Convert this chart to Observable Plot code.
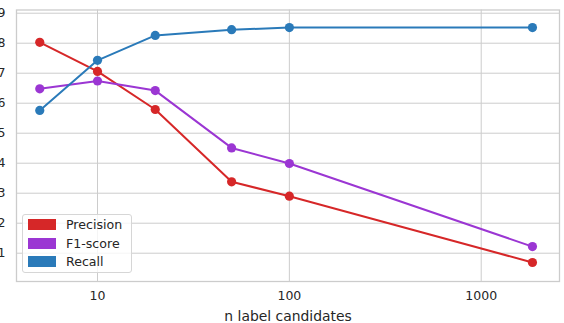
<!DOCTYPE html>
<html>
<head>
<meta charset="utf-8">
<script src="https://cdn.jsdelivr.net/npm/d3@7"></script>
<script src="https://cdn.jsdelivr.net/npm/@observablehq/plot@0.6"></script>
<style>
  html, body { margin: 0; padding: 0; background: white; }
  body { font-family: "DejaVu Sans", sans-serif; }
  #wrap { position: relative; width: 564px; height: 323px; overflow: hidden; }
  #legend {
    position: absolute; left: 22px; top: 213.5px; width: 108px;
    border: 1px solid #d6d6d6; border-radius: 3px;
    background: rgba(255,255,255,0.8);
    padding: 1px 0 1px 0; box-sizing: content-box;
  }
  .row { display: flex; align-items: center; height: 18.6px; font-size: 12.6px; color: #262626; }
  .sw { width: 28px; height: 11px; margin-left: 5px; margin-right: 10px; }
</style>
</head>
<body>
<div id="wrap"></div>
<script>
const candidates = [5, 10, 20, 50, 100, 1850];
const seriesNames = ["Precision", "F1-score", "Recall"];
const seriesColors = ["#d62728", "#9b36d3", "#2a7ab9"];
const precision = [0.803, 0.706, 0.579, 0.338, 0.290, 0.069];
const f1score   = [0.648, 0.674, 0.642, 0.451, 0.399, 0.122];
const recall    = [0.576, 0.743, 0.826, 0.845, 0.852, 0.852];
const xTicks = [10, 100, 1000];
const yTicks = [0.1, 0.2, 0.3, 0.4, 0.5, 0.6, 0.7, 0.8, 0.9];

const seriesValues = [precision, f1score, recall];
const data = [];
seriesNames.forEach((name, s) => {
  candidates.forEach((c, i) => data.push({series: name, n: c, value: seriesValues[s][i]}));
});

const plot = Plot.plot({
  width: 564,
  height: 323,
  marginTop: 9.5,
  marginBottom: 42,
  marginLeft: 16,
  marginRight: 5,
  style: {fontFamily: "DejaVu Sans, sans-serif", color: "#262626", background: "white", overflow: "visible"},
  x: {type: "log", domain: [3.782, 2559], range: [16, 559]},
  y: {domain: [0.0057, 0.9107]},
  color: {domain: seriesNames, range: seriesColors},
  marks: [
    Plot.gridX(xTicks, {stroke: "#cccccc", strokeOpacity: 1, strokeWidth: 1}),
    Plot.gridY(yTicks, {stroke: "#cccccc", strokeOpacity: 1, strokeWidth: 1}),
    Plot.frame({stroke: "#cccccc", strokeWidth: 1.3}),
    Plot.axisX(xTicks, {tickSize: 0, tickPadding: 10, tickFormat: d => String(d), fontSize: 12.5,
      label: "n label candidates", labelAnchor: "center", labelOffset: 39, labelArrow: "none"}),
    Plot.axisY(yTicks, {tickSize: 0, tickPadding: 11, tickFormat: d3.format(".1f"), fontSize: 12.5, label: null}),
    Plot.line(data, {x: "n", y: "value", z: "series", stroke: "series", strokeWidth: 2}),
    Plot.dot(data, {x: "n", y: "value", fill: "series", r: 4.6, stroke: "none"})
  ]
});

const wrap = document.getElementById("wrap");
wrap.appendChild(plot);
// label font size
plot.querySelectorAll("[aria-label='x-axis label'] text, [aria-label='x-axis label']").forEach(el => el.setAttribute("font-size", "13.9"));

const legend = document.createElement("div");
legend.id = "legend";
seriesNames.forEach((name, i) => {
  const row = document.createElement("div");
  row.className = "row";
  const sw = document.createElement("div");
  sw.className = "sw";
  sw.style.background = seriesColors[i];
  const t = document.createElement("span");
  t.textContent = name;
  row.appendChild(sw); row.appendChild(t);
  legend.appendChild(row);
});
wrap.appendChild(legend);
</script>
</body>
</html>
